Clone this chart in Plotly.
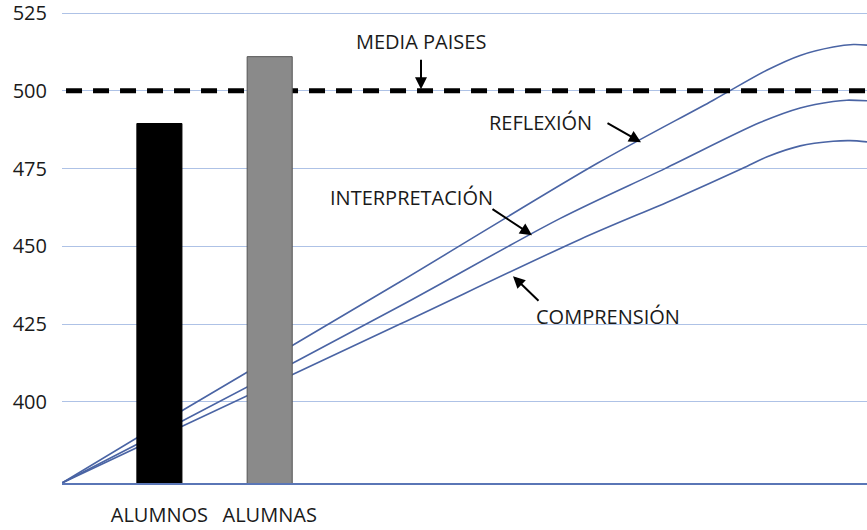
import plotly.graph_objects as go

# ---- data ----
groups = ["ALUMNOS", "ALUMNAS"]
group_pos = [12.1, 25.8]
group_scores = [489.5, 511.0]
group_colors = ["#000000", "#8a8a8a"]

media_paises = 500

line_names = ["REFLEXIÓN", "INTERPRETACIÓN", "COMPRENSIÓN"]
x_reflexion = [0, 15.0, 42.0, 66.5, 80.9, 87.6, 91.7, 95.8, 98.3, 100]
y_reflexion = [373.9, 397.3, 438.6, 476.7, 497.0, 506.7, 511.4, 514.1, 514.9, 514.7]
x_interp = [0, 15.0, 42.0, 61.9, 74.9, 86.7, 91.7, 95.8, 97.5, 100]
y_interp = [373.9, 393.9, 430.8, 459.0, 475.0, 489.8, 494.5, 496.6, 497.0, 496.8]
x_compr = [0, 15.0, 42.0, 64.4, 75.9, 84.5, 87.6, 91.7, 95.8, 97.9, 100]
y_compr = [373.9, 392.2, 425.0, 452.3, 465.0, 475.0, 478.8, 482.3, 483.8, 484.0, 483.6]

y_ticks = [400, 425, 450, 475, 500, 525]
y_range = [373.9, 526.0]
x_range = [0, 100]

FONT = "Open Sans, Liberation Sans, sans-serif"
LINE_COLOR = "#4a64a4"
TEXT_COLOR = "#1a1a1a"

fig = go.Figure()

for name, xs, ys in [(line_names[0], x_reflexion, y_reflexion),
                     (line_names[1], x_interp, y_interp),
                     (line_names[2], x_compr, y_compr)]:
    fig.add_trace(go.Scatter(x=xs, y=ys, mode="lines", name=name,
                             line=dict(color=LINE_COLOR, width=1.6, shape="spline", smoothing=0.9),
                             showlegend=False, hoverinfo="skip"))

fig.add_trace(go.Scatter(x=[0.5, 100], y=[media_paises, media_paises], mode="lines",
                         line=dict(color="black", width=5, dash="16px,11px"),
                         showlegend=False, hoverinfo="skip"))

fig.add_trace(go.Bar(x=group_pos, y=group_scores, width=5.6,
                     marker=dict(color=group_colors, line=dict(color=["#000000", "#555555"], width=1)),
                     xaxis="x2", yaxis="y2", showlegend=False, hoverinfo="skip"))

fig.update_layout(
    width=867, height=530,
    margin=dict(l=62, r=0, t=10, b=47),
    paper_bgcolor="white", plot_bgcolor="white",
    font=dict(family=FONT, size=20, color=TEXT_COLOR),
    xaxis=dict(range=x_range, showgrid=False, zeroline=False, automargin=False,
               tickvals=group_pos, ticktext=groups, ticks="",
               ticklabelstandoff=13, ticklabeloverflow="allow",
               showline=True, linecolor="#5a76b6", linewidth=1.5,
               tickfont=dict(size=20, color=TEXT_COLOR)),
    yaxis=dict(range=y_range, tickvals=y_ticks, showgrid=True, gridcolor="#aec2e6", gridwidth=1,
               zeroline=False, showline=False, ticks="", ticklabelstandoff=14,
               ticklabeloverflow="allow", automargin=False,
               tickfont=dict(size=20, color=TEXT_COLOR)),
    xaxis2=dict(range=x_range, overlaying="x", visible=False, automargin=False),
    yaxis2=dict(range=y_range, overlaying="y", visible=False, automargin=False),
)

def px2x(px):
    return (px - 62) / 8.05

def py2y(py):
    return 400 + (401.7 - py) / 3.11

annos = [
    ("MEDIA PAISES", 421, 41),
    ("REFLEXIÓN", 540, 122),
    ("INTERPRETACIÓN", 411, 197),
    ("COMPRENSIÓN", 608, 316),
]
for text, px, py in annos:
    fig.add_annotation(x=px2x(px), y=py2y(py), text=text, showarrow=False,
                       font=dict(size=20, color=TEXT_COLOR), xref="x", yref="y")

arrows = [
    ((421, 58), (421, 89)),
    ((606, 122), (641, 142)),
    ((491, 208), (532, 235)),
    ((540, 302), (513, 276)),
]
for (sx, sy), (tx, ty) in arrows:
    fig.add_annotation(x=px2x(tx), y=py2y(ty), ax=px2x(sx), ay=py2y(sy),
                       axref="x", ayref="y", xref="x", yref="y", text="",
                       showarrow=True, arrowhead=2, arrowsize=1.2, arrowwidth=2, arrowcolor="black")

fig.write_html("out.html", config={"displayModeBar": False},
               post_script="document.body.style.margin='0';document.body.style.overflow='hidden';")
